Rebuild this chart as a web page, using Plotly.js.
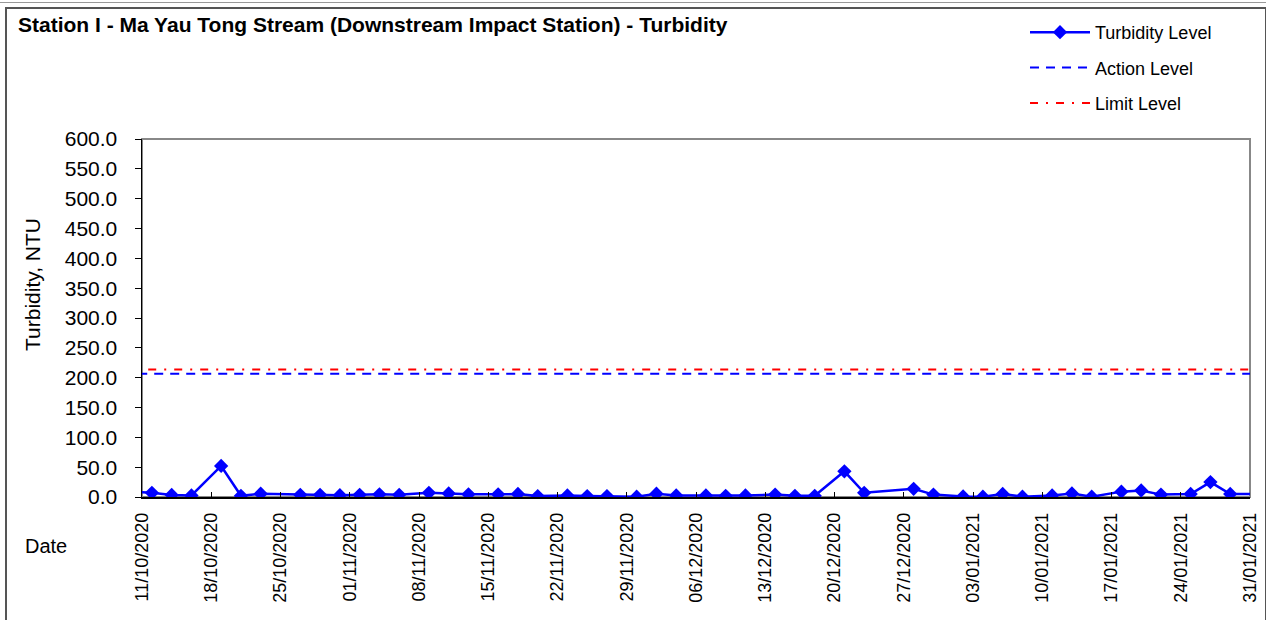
<!DOCTYPE html>
<html>
<head>
<meta charset="utf-8">
<script src="https://cdn.plot.ly/plotly-3.0.1.min.js"></script>
<style>
  html, body { margin: 0; padding: 0; background: #fff; }
  #wrap { position: relative; width: 1266px; height: 620px; overflow: hidden; }
  #chart { width: 1266px; height: 620px; }
  #frame { position: absolute; left: 5px; top: 7px; width: 1258px; height: 640px; border: 2px solid #555; pointer-events: none; }
  #topline { position: absolute; left: 0; top: 2px; width: 1266px; height: 0; border-top: 1px solid #999; pointer-events: none; }
</style>
</head>
<body>
<div id="wrap">
  <div id="chart"></div>
  <div id="topline"></div>
  <div id="frame"></div>
</div>
<script>
// ---- data ----
const sampleDates = [
  '2020-10-09','2020-10-12','2020-10-14','2020-10-16','2020-10-19','2020-10-21','2020-10-23',
  '2020-10-27','2020-10-29','2020-10-31','2020-11-02','2020-11-04','2020-11-06',
  '2020-11-09','2020-11-11','2020-11-13','2020-11-16','2020-11-18','2020-11-20',
  '2020-11-23','2020-11-25','2020-11-27','2020-11-30','2020-12-02','2020-12-04',
  '2020-12-07','2020-12-09','2020-12-11','2020-12-14','2020-12-16','2020-12-18',
  '2020-12-21','2020-12-23','2020-12-28','2020-12-30',
  '2021-01-02','2021-01-04','2021-01-06','2021-01-08','2021-01-11','2021-01-13','2021-01-15',
  '2021-01-18','2021-01-20','2021-01-22','2021-01-25','2021-01-27','2021-01-29','2021-02-01'
];
const turbidity = [
  10, 7, 3.5, 2.5, 52, 2, 5.5,
  3.7, 3.7, 3, 3.7, 4.5, 3.7,
  7, 6, 4.5, 4.5, 5, 1.5,
  2.5, 1.5, 1.5, 0.5, 5.5, 2.5,
  2.5, 2, 2.5, 4, 2, 2,
  43, 7, 13.7, 4,
  1, 0.5, 5, 0.5, 2.5, 6, 0.5,
  9, 11, 4, 5, 25, 5, 5
];
const levelDates = ['2020-10-09', '2021-02-01'];
const actionLevel = [206.4, 206.4];
const limitLevel = [213.6, 213.6];

const tickDates = [
  '2020-10-11','2020-10-18','2020-10-25','2020-11-01','2020-11-08','2020-11-15','2020-11-22',
  '2020-11-29','2020-12-06','2020-12-13','2020-12-20','2020-12-27','2021-01-03','2021-01-10',
  '2021-01-17','2021-01-24','2021-01-31'
];
const tickLabels = [
  '11/10/2020','18/10/2020','25/10/2020','01/11/2020','08/11/2020','15/11/2020','22/11/2020',
  '29/11/2020','06/12/2020','13/12/2020','20/12/2020','27/12/2020','03/01/2021','10/01/2021',
  '17/01/2021','24/01/2021','31/01/2021'
];
const xRange = ['2020-10-11', '2021-01-31'];
const yRange = [0, 600];

// ---- layout geometry (pixels) ----
const W = 1266, H = 620;
const M = { l: 142, r: 16, t: 139, b: 123, autoexpand: false };
const pw = W - M.l - M.r, ph = H - M.t - M.b;
const px2x = px => (px - M.l) / pw;
const py2y = py => (H - M.b - py) / ph;

const FONT = 'Liberation Sans, Arial, Helvetica, sans-serif';

const traces = [
  {
    x: sampleDates, y: turbidity, type: 'scatter', mode: 'lines+markers',
    name: 'Turbidity Level', legendgroup: 'a',
    line: { color: '#0000FF', width: 2.5 },
    marker: { symbol: 'diamond', size: 11, color: '#0000FF' }
  },
  {
    x: levelDates, y: actionLevel, type: 'scatter', mode: 'lines',
    name: 'Action Level', legendgroup: 'b',
    line: { color: '#0000FF', width: 2, dash: '9px,7px' }
  },
  {
    x: levelDates, y: limitLevel, type: 'scatter', mode: 'lines',
    name: 'Limit Level', legendgroup: 'c',
    line: { color: '#FF0000', width: 2, dash: '8px,8px,2px,8px' }
  }
];

const layout = {
  width: W, height: H,
  margin: M,
  paper_bgcolor: '#fff', plot_bgcolor: '#fff',
  font: { family: FONT, color: '#000', size: 18 },
  title: {
    text: '<b>Station I - Ma Yau Tong Stream (Downstream Impact Station) - Turbidity</b>',
    xref: 'container', yref: 'container',
    x: 18 / W, xanchor: 'left', y: 1 - 25 / H, yanchor: 'middle',
    font: { family: FONT, size: 21, color: '#000' }
  },
  showlegend: true,
  legend: {
    xref: 'container', yref: 'container',
    x: 1025 / W, xanchor: 'left', y: 1 - 14 / H, yanchor: 'top',
    font: { family: FONT, size: 18, color: '#000' },
    bgcolor: 'rgba(0,0,0,0)', borderwidth: 0,
    itemwidth: 60, tracegroupgap: 9, traceorder: 'grouped'
  },
  xaxis: {
    type: 'date', range: xRange, autorange: false,
    tickmode: 'array', tickvals: tickDates, ticktext: tickLabels,
    tickangle: -90, tickfont: { family: FONT, size: 18, color: '#000' },
    ticks: 'inside', ticklen: 5, tickcolor: '#000', tickwidth: 1,
    showline: true, linecolor: '#000', linewidth: 1.5, mirror: false,
    showgrid: false, zeroline: false, ticklabelstandoff: 7
  },
  yaxis: {
    range: yRange, autorange: false, dtick: 50, tick0: 0, tickformat: '.1f',
    tickfont: { family: FONT, size: 21, color: '#000' },
    ticks: 'outside', ticklen: 6, tickcolor: '#000', tickwidth: 1,
    showline: true, linecolor: '#000', linewidth: 1.5,
    showgrid: false, zeroline: false, ticklabelstandoff: 13
  },
  shapes: [
    { type: 'rect', xref: 'paper', yref: 'paper', x0: 0, x1: 1, y0: 0, y1: 1,
      line: { color: '#888', width: 2 }, layer: 'below' }
  ],
  annotations: [
    { text: 'Turbidity, NTU', xref: 'paper', yref: 'paper',
      x: px2x(32), y: py2y(285), xanchor: 'center', yanchor: 'middle',
      textangle: -90, showarrow: false, font: { family: FONT, size: 21, color: '#000' } },
    { text: 'Date', xref: 'paper', yref: 'paper',
      x: px2x(46), y: py2y(546), xanchor: 'center', yanchor: 'middle',
      showarrow: false, font: { family: FONT, size: 20, color: '#000' } }
  ]
};

Plotly.newPlot('chart', traces, layout, { displayModeBar: false, staticPlot: true });
</script>
</body>
</html>
